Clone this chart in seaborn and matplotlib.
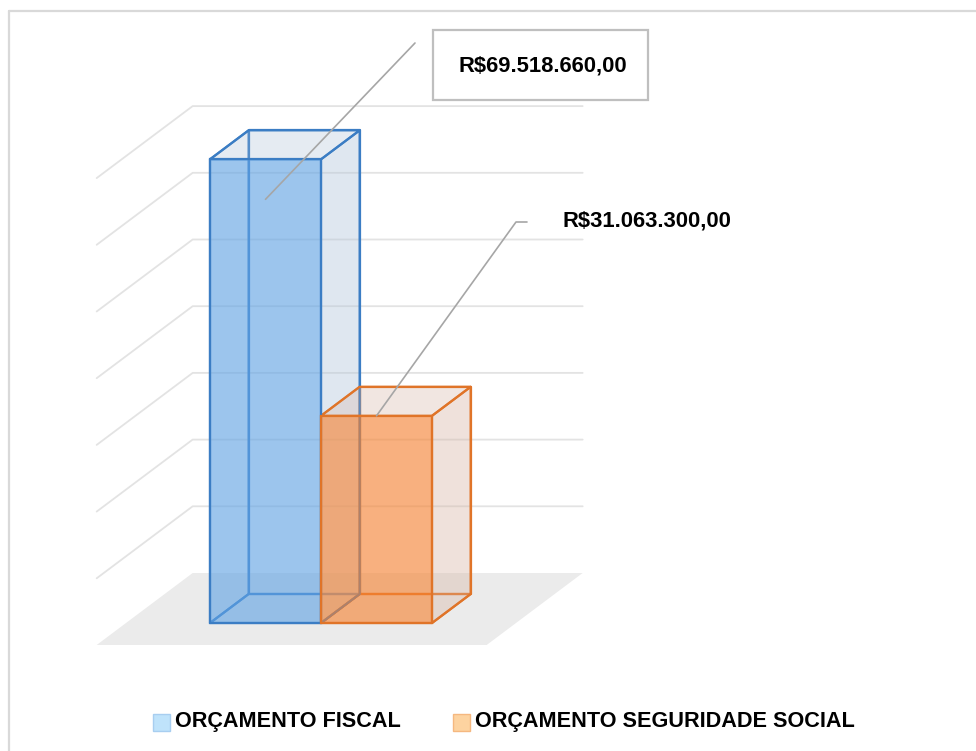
import matplotlib
matplotlib.use("Agg")
import matplotlib.pyplot as plt
from matplotlib import font_manager
from matplotlib.colors import to_rgba
from matplotlib.patches import Polygon, Rectangle
import seaborn as sns

# dados
categorias = ["ORÇAMENTO FISCAL", "ORÇAMENTO SEGURIDADE SOCIAL"]
valores = [69518660.00, 31063300.00]
grade_mi = [10, 20, 30, 40, 50, 60, 70]

cores_frente = ["#62a5e6", "#f88432"]
cores_borda = ["#3b7dc4", "#e07428"]
cores_lado = ["#b4c7dc", "#d9b8a8"]
cores_legenda = [("#bfe3fb", "#a8cef0"), ("#fdd3a0", "#f5b880")]

# geometria da "caixa 3D" (pixels da figura 976x751)
W, H = 976, 751
PX_CAT = 111.0
PX_MI = 6.67
OX, OY = 210.0, 623.0
DX = 96 / PX_CAT
DY = 72 / PX_MI
D0, D1 = 22 / 72, 51 / 72
FOLGA = 84 / PX_CAT


def pix(px, py):
    return (-0.5 + (px - OX) / PX_CAT, (OY - py) / PX_MI)


def proj(x, v, d):
    return (x + (d - D0) * DX, v + (d - D0) * DY)


def brl(v):
    s = f"{v:,.2f}"
    return "R$" + s.replace(",", "X").replace(".", ",").replace("X", ".")


sns.set_theme(style="white")
nomes = {f.name for f in font_manager.fontManager.ttflist}
if "Liberation Sans Narrow" in nomes:
    FONTE, TAM_ROTULO, TAM_LEGENDA = "Liberation Sans Narrow", 17.5, 19
else:
    # sem fonte estreita: reduz o corpo para manter a largura do texto
    FONTE, TAM_ROTULO, TAM_LEGENDA = "Liberation Sans", 15.8, 15.6
plt.rcParams["font.family"] = [FONTE, "DejaVu Sans"]

fig = plt.figure(figsize=(W / 100, H / 100), dpi=100)
ax = fig.add_axes([0, 0, 1, 1])

valores_mi = [v / 1e6 for v in valores]
sns.barplot(x=categorias, y=valores_mi, hue=categorias, palette=cores_frente,
            width=1.0, legend=False, ax=ax)
barras = sorted(ax.patches, key=lambda p: p.get_x())

# chão e linhas de grade
xL = -0.5 - FOLGA
xR = len(categorias) - 0.5 + FOLGA
chao = [proj(xL, 0, 0), proj(xR, 0, 0), proj(xR, 0, 1), proj(xL, 0, 1)]
ax.add_patch(Polygon(chao, closed=True, fc="#ebebeb", ec="none", zorder=0))
for g in grade_mi:
    a, b, c = proj(xL, g, 0), proj(xL, g, 1), proj(xR, g, 1)
    ax.plot([a[0], b[0], c[0]], [a[1], b[1], c[1]], color="#e3e3e3", lw=1.3, zorder=0.5)

# faces das barras
for i, p in enumerate(barras):
    x0, x1, v = p.get_x(), p.get_x() + p.get_width(), p.get_height()
    borda = cores_borda[i]
    faces = [
        ([(x0, 0, D1), (x1, 0, D1), (x1, v, D1), (x0, v, D1)], 0.15, 2.0),
        ([(x0, 0, D0), (x0, 0, D1), (x0, v, D1), (x0, v, D0)], 0.15, 2.0),
        ([(x0, 0, D0), (x1, 0, D0), (x1, 0, D1), (x0, 0, D1)], 0.15, 2.0),
        ([(x1, 0, D0), (x1, 0, D1), (x1, v, D1), (x1, v, D0)], 0.30, 2.5),
        ([(x0, v, D0), (x1, v, D0), (x1, v, D1), (x0, v, D1)], 0.22, 2.5),
    ]
    for pts, alfa, z in faces:
        ax.add_patch(Polygon([proj(*q) for q in pts], closed=True,
                             fc=to_rgba(cores_lado[i], alfa), ec=borda, lw=1.6,
                             joinstyle="round", zorder=z))
    p.set_facecolor(to_rgba(cores_frente[i], 0.6))
    p.set_edgecolor(borda)
    p.set_linewidth(1.6)
    p.set_zorder(3)

ax.set_xlim(pix(0, 0)[0], pix(W, 0)[0])
ax.set_ylim(pix(0, H)[1], pix(0, 0)[1])
ax.axis("off")

# rótulos de dados
b1, b2 = barras
anc1 = (b1.get_x() + b1.get_width() / 2, b1.get_height() - 6)
fim1 = pix(415, 43)
ax.plot([anc1[0], fim1[0]], [anc1[1], fim1[1]], color="#a6a6a6", lw=1.2, zorder=4)
cx, cy = pix(433, 100)
ax.add_patch(Rectangle((cx, cy), 215 / PX_CAT, 70 / PX_MI, fc="white",
                       ec="#bfbfbf", lw=1.6, zorder=5))
ax.text(*pix(543, 66), brl(valores[0]), ha="center", va="center",
        fontsize=TAM_ROTULO, fontweight="bold", color="black", zorder=6)

anc2 = (b2.get_x() + b2.get_width() / 2, b2.get_height())
m2, f2 = pix(516, 222), pix(527, 222)
ax.plot([anc2[0], m2[0], f2[0]], [anc2[1], m2[1], f2[1]], color="#a6a6a6", lw=1.2, zorder=4)
ax.text(*pix(647, 221), brl(valores[1]), ha="center", va="center",
        fontsize=TAM_ROTULO, fontweight="bold", color="black", zorder=6)

# legenda
for (qx, tx), nome, (fc, ec) in zip([(153, 175), (453, 475)], categorias, cores_legenda):
    fig.add_artist(Rectangle((qx / W, 1 - 731 / H), 17 / W, 17 / H, fc=fc, ec=ec,
                             lw=1.0, transform=fig.transFigure))
    fig.text(tx / W, 1 - 722 / H, nome, ha="left", va="center", fontsize=TAM_LEGENDA,
             fontweight="bold", color="black")

# moldura
fig.add_artist(plt.Line2D([9 / W, 9 / W], [0, 1 - 11 / H], color="#d9d9d9", lw=1.6))
fig.add_artist(plt.Line2D([9 / W, 1], [1 - 11 / H, 1 - 11 / H], color="#d9d9d9", lw=1.6))

fig.savefig("out.png", dpi=100)
